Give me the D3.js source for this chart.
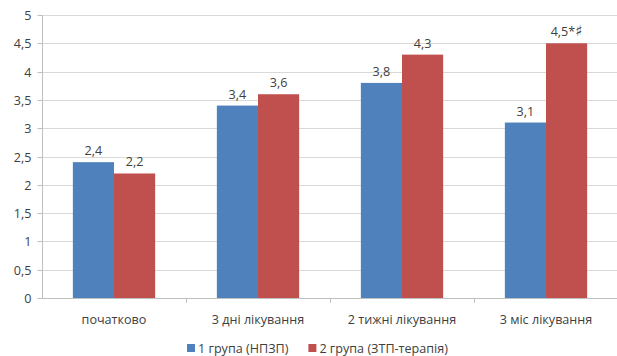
<!DOCTYPE html>
<html><head><meta charset="utf-8">
<script src="https://cdn.jsdelivr.net/npm/d3@7"></script>
<style>
body{margin:0;background:#fff;}
text{font-family:"Open Sans","Noto Sans","DejaVu Sans",sans-serif;fill:#404040;}
</style></head>
<body><svg id="c" width="617" height="356"></svg>
<script>
const categories = ["початково","3 дні лікування","2 тижні лікування","3 міс лікування"];
const seriesNames = ["1 група (НПЗП)","2 група (ЗТП-терапія)"];
const group1 = [2.4,3.4,3.8,3.1];
const group2 = [2.2,3.6,4.3,4.5];
const labels1 = ["2,4","3,4","3,8","3,1"];
const labels2 = ["2,2","3,6","4,3","4,5*"];
const labels2Suffix = ["","","","♯"];
const yTicks = [0,0.5,1,1.5,2,2.5,3,3.5,4,4.5,5];
const yTickLabels = ["0","0,5","1","1,5","2","2,5","3","3,5","4","4,5","5"];
const colors = ["#4F81BD","#C0504D"];

(function(){
const FS = 12.6;
const svg = d3.select("#c");
const pl=42, pr=618, pt=15, pb=298;
const x = d3.scaleBand().domain(categories).range([pl,pr]).paddingInner(0).paddingOuter(0);
const y = d3.scaleLinear().domain([0,5]).range([pb,pt]);
const bw = x.bandwidth()*41/143.5;

// gridlines
svg.append("g").selectAll("line").data(yTicks.filter(d=>d>0)).join("line")
  .attr("x1",pl).attr("x2",617).attr("y1",d=>Math.round(y(d))+0.5).attr("y2",d=>Math.round(y(d))+0.5)
  .attr("stroke","#D9D9D9").attr("stroke-width",1);

// y axis
const yAxis = svg.append("g").attr("transform",`translate(${pl+0.5},0)`)
  .call(d3.axisLeft(y).tickValues(yTicks).tickFormat((d,i)=>yTickLabels[i]).tickSize(5).tickPadding(6));
yAxis.select(".domain").attr("stroke","#BFBFBF").attr("d",`M0,${pt}V${pb}`);
yAxis.selectAll(".tick line").attr("stroke","#BFBFBF");
yAxis.selectAll(".tick text").attr("font-size",FS).style("fill","#404040");
yAxis.selectAll(".tick").attr("transform",d=>`translate(0,${Math.round(y(d))+0.5})`);

// bars
const data = categories.map((c,i)=>({c,v:[group1[i],group2[i]],l:[labels1[i],labels2[i]],sfx:["",labels2Suffix[i]]}));
const g = svg.append("g");
data.forEach(d=>{
  const cx = x(d.c)+x.bandwidth()/2;
  [0,1].forEach(s=>{
    const x0 = cx + (s-1)*bw;
    g.append("rect").attr("x",x0).attr("y",y(d.v[s])).attr("width",bw).attr("height",pb-y(d.v[s]))
      .attr("fill",colors[s]);
    const t = g.append("text").attr("x",x0+bw/2).attr("y",y(d.v[s])-7).attr("text-anchor","middle")
      .attr("font-size",FS).text(d.l[s]);
    if (d.sfx[s]) t.append("tspan").attr("font-size",15).attr("font-family","DejaVu Sans").text(d.sfx[s]);
  });
});

// x axis
const xAxis = svg.append("g").attr("transform",`translate(0,${pb+0.5})`)
  .call(d3.axisBottom(x).tickSize(0).tickPadding(17));
xAxis.select(".domain").attr("stroke","#BFBFBF").attr("d",`M${pl},0H617`);
xAxis.selectAll(".tick text").attr("font-size",FS).style("fill","#404040");
svg.append("g").selectAll("line").data(categories.slice(1)).join("line")
  .attr("x1",d=>Math.round(x(d))+0.5).attr("x2",d=>Math.round(x(d))+0.5)
  .attr("y1",pb).attr("y2",pb+5).attr("stroke","#BFBFBF");

// legend
const leg = svg.append("g");
let lx = 187;
seriesNames.forEach((n,i)=>{
  leg.append("rect").attr("x",lx).attr("y",344).attr("width",8).attr("height",8).attr("fill",colors[i]);
  const t = leg.append("text").attr("x",lx+11).attr("y",352.5).attr("font-size",FS).text(n);
  lx = lx + 11 + t.node().getComputedTextLength() + 20;
});
})();
</script></body></html>
